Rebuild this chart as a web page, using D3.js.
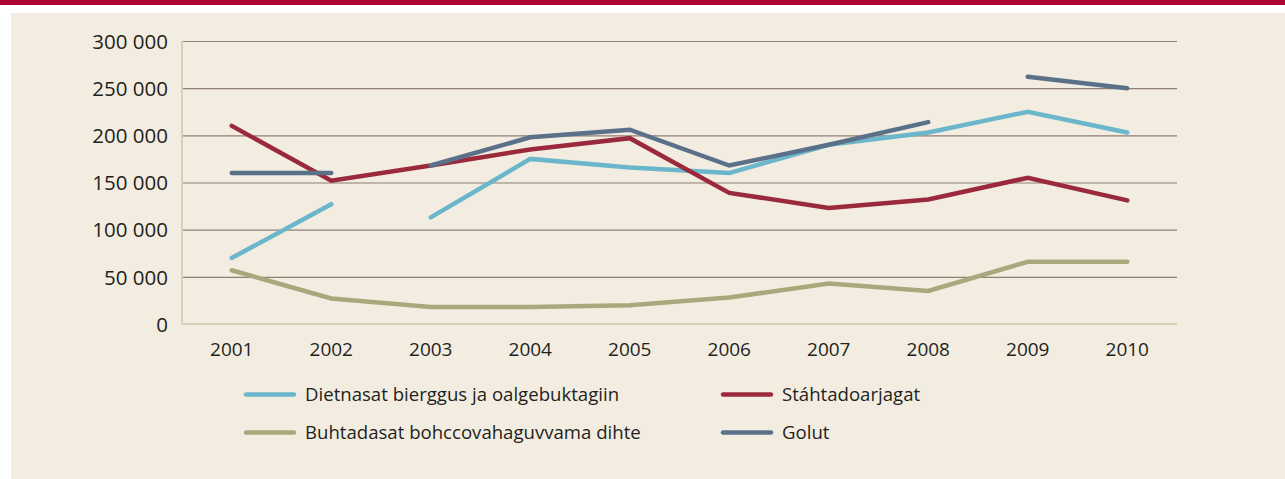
<!DOCTYPE html>
<html>
<head>
<meta charset="utf-8">
<script src="https://cdn.jsdelivr.net/npm/d3@7/dist/d3.min.js"></script>
<style>
  html, body { margin: 0; padding: 0; background: #ffffff; }
  svg { display: block; }
  text { font-family: "Open Sans", "Noto Sans", sans-serif; fill: #231f20; }
</style>
</head>
<body>
<svg id="chart" width="1285" height="479"></svg>
<script>
// Years on the horizontal axis
const years = ["2001", "2002", "2003", "2004", "2005", "2006", "2007", "2008", "2009", "2010"];

// Series values per year
const dietnasat = [70000, 127000, 113000, 175000, 166000, 160000, 190000, 203000, 225000, 203000];
const stahtadoarjagat = [210000, 152000, 168000, 185000, 197000, 139000, 123000, 132000, 155000, 131000];
const buhtadasat = [57000, 27000, 18000, 18000, 20000, 28000, 43000, 35000, 66000, 66000];
const golut = [160000, 160000, 168000, 198000, 206000, 168000, 190000, 214000, 262000, 250000];

// Years after which a series is not connected to the next year
const dietnasatBreaks = ["2002"];
const stahtadoarjagatBreaks = [];
const buhtadasatBreaks = [];
const golutBreaks = ["2002", "2008"];

// Y axis ticks
const yTicks = [0, 50000, 100000, 150000, 200000, 250000, 300000];

const seriesNames = [
  "Dietnasat bierggus ja oalgebuktagiin",
  "Stáhtadoarjagat",
  "Buhtadasat bohccovahaguvvama dihte",
  "Golut"
];

const colors = {
  blue: "#6bb6cb",
  red: "#9a2a3b",
  olive: "#aba77c",
  slate: "#5a7189"
};

const svg = d3.select("#chart");

// Header strip and panel
svg.append("rect").attr("x", 0).attr("y", 0).attr("width", 1285).attr("height", 5).attr("fill", "#ad0031");
svg.append("rect").attr("x", 11).attr("y", 13).attr("width", 1274).attr("height", 466).attr("fill", "#f3ede1");

const plot = { left: 182, right: 1177, top: 41, bottom: 324 };

const x = d3.scaleBand().domain(years).range([plot.left, plot.right]);
const xc = d => x(d) + x.bandwidth() / 2;
const y = d3.scaleLinear().domain([0, 300000]).range([plot.bottom, plot.top]);

const fmt = v => d3.format(",")(v).replace(/,/g, " ");

// Horizontal grid lines
const yAxis = d3.axisLeft(y).tickValues(yTicks.filter(t => t > 0))
  .tickSize(-(plot.right - plot.left)).tickFormat("");
const grid = svg.append("g").attr("transform", `translate(${plot.left},0)`).call(yAxis);
grid.select(".domain").remove();
grid.selectAll(".tick line").attr("stroke", "#8f7f72").attr("stroke-width", 1.2);

// Y tick labels
const yLab = d3.axisLeft(y).tickValues(yTicks).tickSize(0).tickPadding(14).tickFormat(fmt);
const yl = svg.append("g").attr("transform", `translate(${plot.left},0)`).call(yLab);
yl.select(".domain").remove();
yl.selectAll("text").attr("font-size", 20.5).attr("font-family", "\"Open Sans\", sans-serif")
  .attr("fill", "#231f20").attr("dy", "0.35em");

// Axis frame: left and bottom lines
svg.append("line").attr("x1", plot.left).attr("x2", plot.left)
  .attr("y1", y(300000)).attr("y2", y(0)).attr("stroke", "#d8cfb4").attr("stroke-width", 2);
svg.append("line").attr("x1", plot.left).attr("x2", plot.right)
  .attr("y1", y(0)).attr("y2", y(0)).attr("stroke", "#d8cfb4").attr("stroke-width", 2);

// X tick labels
const xAxis = d3.axisBottom(x).tickSize(0).tickPadding(19);
const xl = svg.append("g").attr("transform", `translate(0,${plot.bottom})`).call(xAxis);
xl.select(".domain").remove();
xl.selectAll("text").attr("font-size", 19).attr("font-family", "\"Open Sans\", sans-serif")
  .attr("fill", "#231f20");

// Lines, split into connected runs
const line = d3.line().x(d => xc(d.year)).y(d => y(d.value));
function runs(values, breaks) {
  const out = [];
  let cur = [];
  years.forEach((yr, i) => {
    cur.push({ year: yr, value: values[i] });
    if (breaks.includes(yr)) { out.push(cur); cur = []; }
  });
  if (cur.length) out.push(cur);
  return out;
}

const drawOrder = [
  { values: buhtadasat, breaks: buhtadasatBreaks, color: colors.olive },
  { values: dietnasat, breaks: dietnasatBreaks, color: colors.blue },
  { values: stahtadoarjagat, breaks: stahtadoarjagatBreaks, color: colors.red },
  { values: golut, breaks: golutBreaks, color: colors.slate }
];

drawOrder.forEach(s => {
  svg.append("g").selectAll("path").data(runs(s.values, s.breaks)).join("path")
    .attr("d", line)
    .attr("fill", "none")
    .attr("stroke", s.color)
    .attr("stroke-width", 4.5)
    .attr("stroke-linecap", "round")
    .attr("stroke-linejoin", "miter");
});

// Legend
const legendItems = [
  { name: seriesNames[0], color: colors.blue, x: 246, y: 394.5 },
  { name: seriesNames[1], color: colors.red, x: 723, y: 394.5 },
  { name: seriesNames[2], color: colors.olive, x: 246, y: 432.5 },
  { name: seriesNames[3], color: colors.slate, x: 723, y: 432.5 }
];
const lg = svg.append("g").selectAll("g").data(legendItems).join("g")
  .attr("transform", d => `translate(${d.x},${d.y})`);
lg.append("line").attr("x1", 0).attr("x2", 48).attr("y1", 0).attr("y2", 0)
  .attr("stroke", d => d.color).attr("stroke-width", 4.5).attr("stroke-linecap", "round");
lg.append("text").attr("x", 59).attr("y", 0).attr("dy", "0.35em")
  .attr("font-size", 18.6).text(d => d.name);
</script>
</body>
</html>
